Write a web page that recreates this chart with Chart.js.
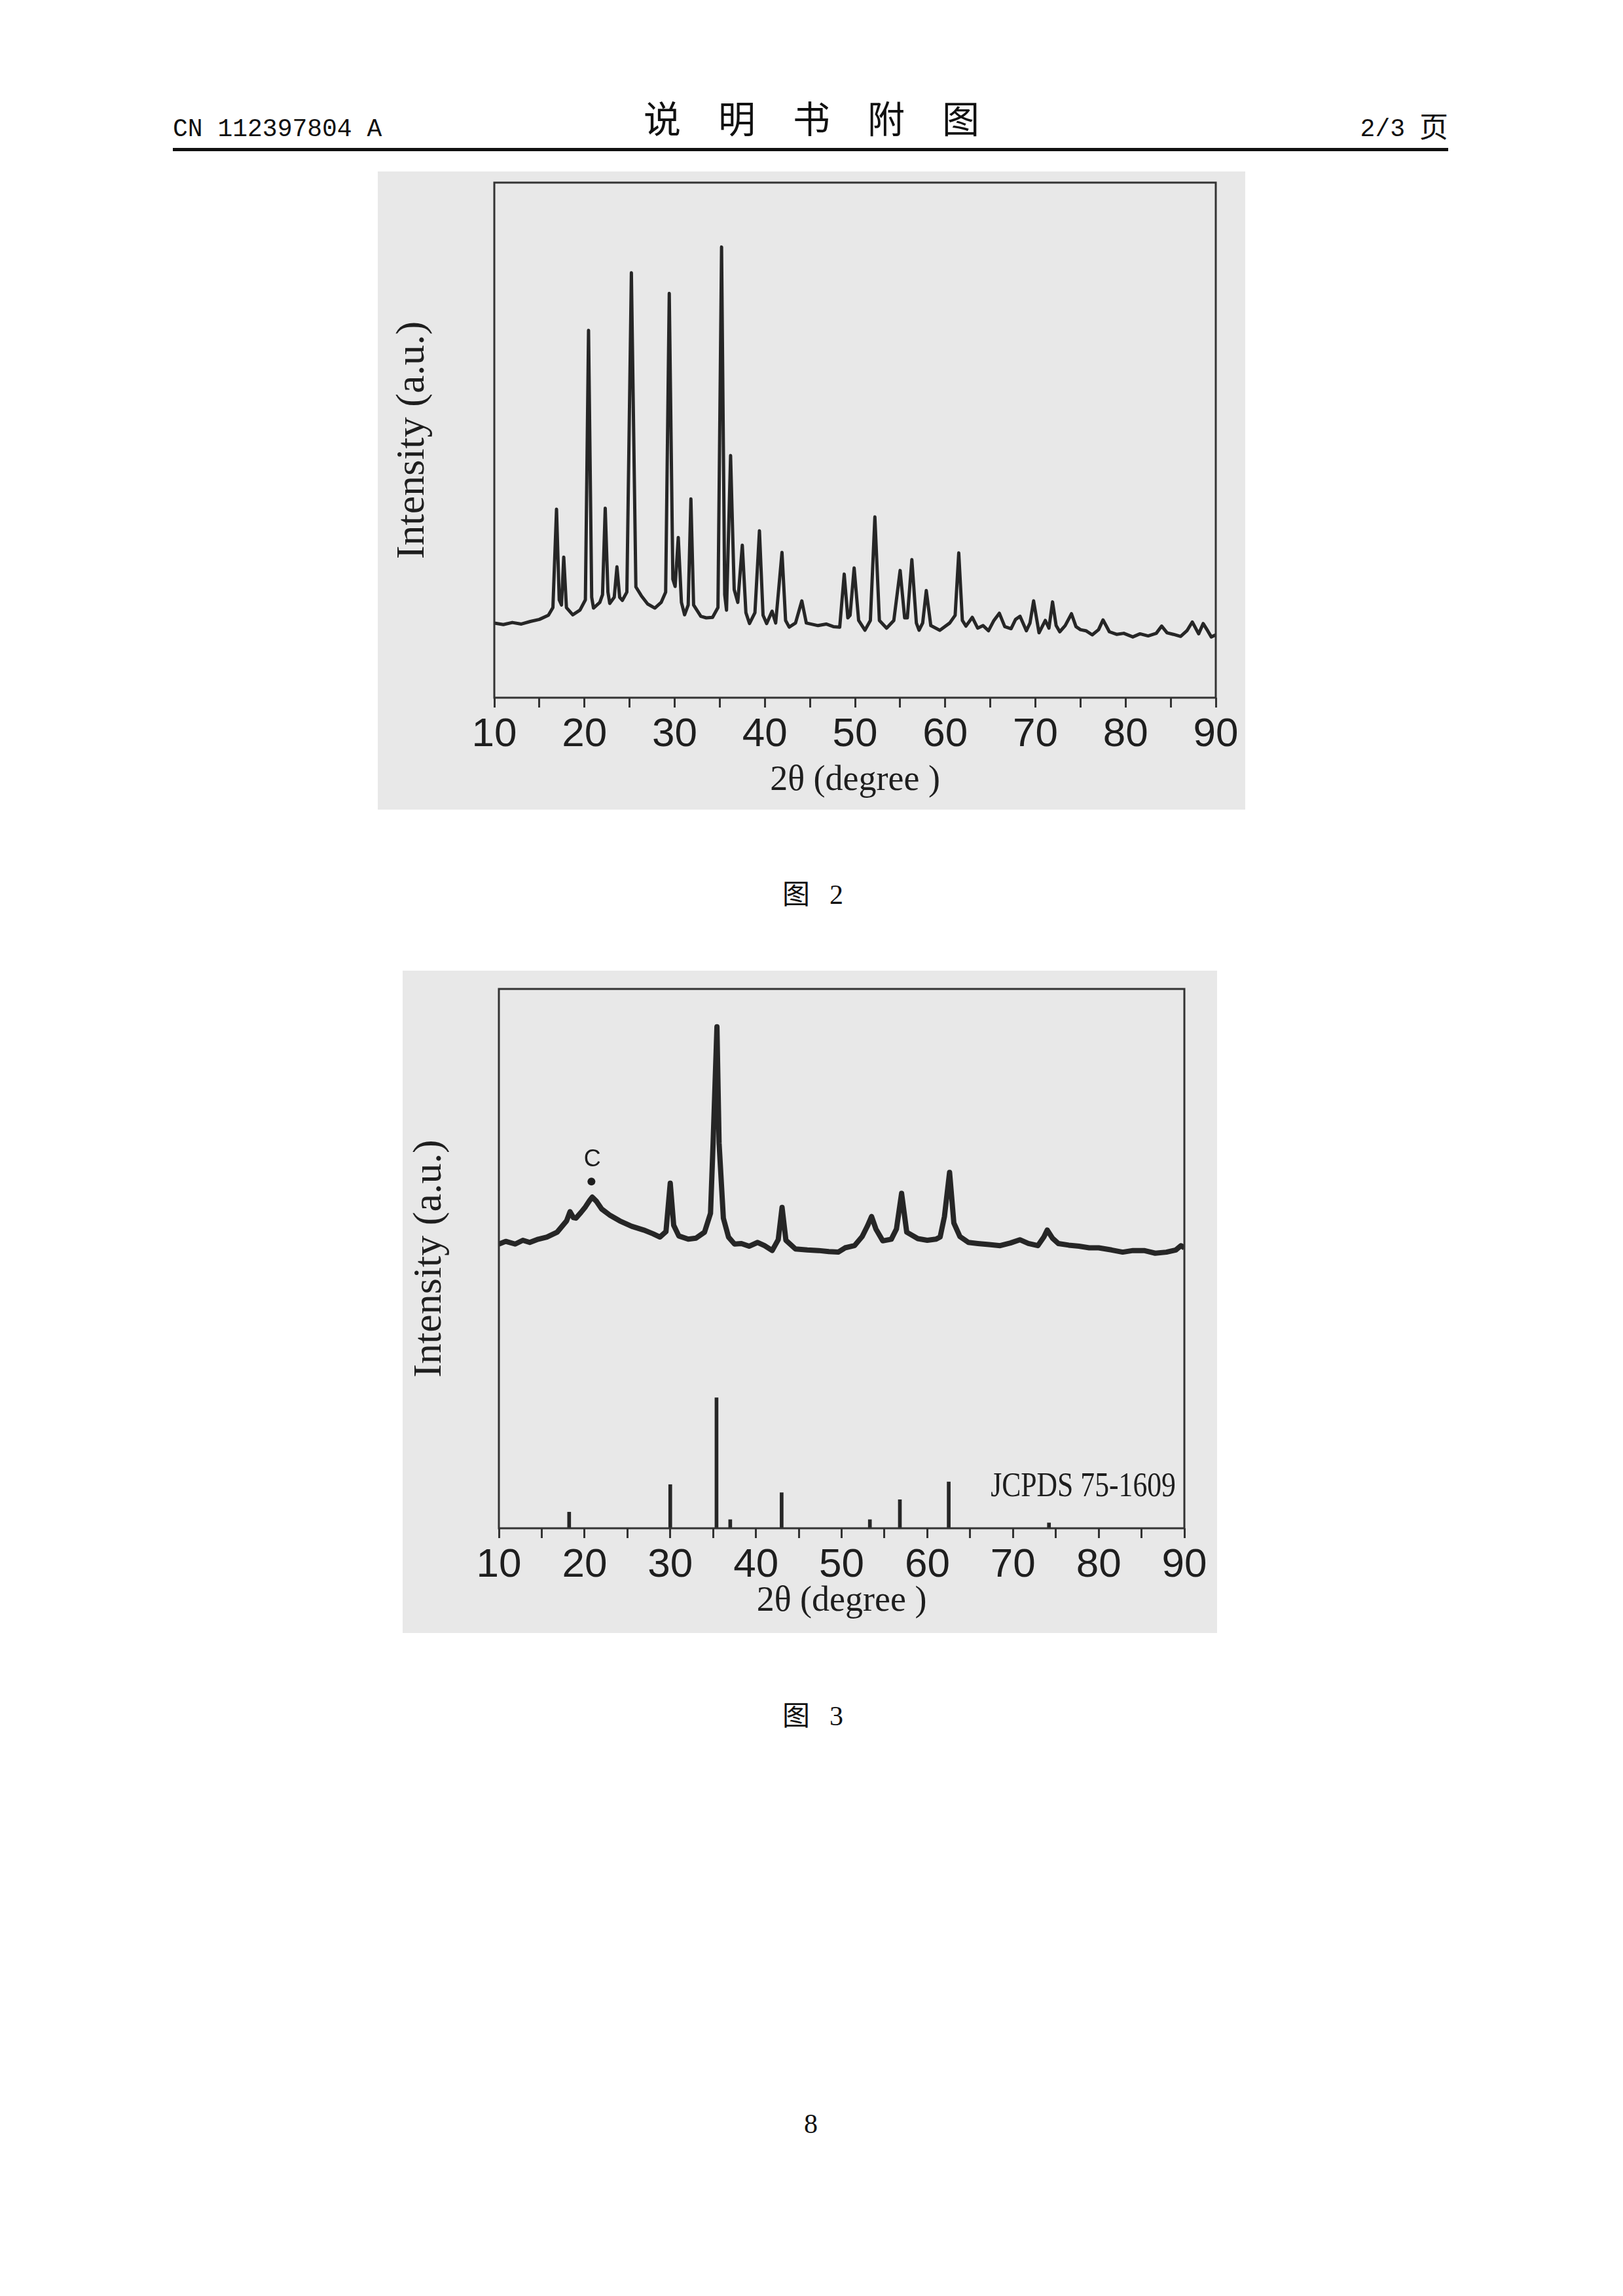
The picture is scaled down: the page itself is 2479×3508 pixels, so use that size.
<!DOCTYPE html>
<html>
<head>
<meta charset="utf-8">
<script src="https://cdn.jsdelivr.net/npm/chart.js@4.4.1/dist/chart.umd.min.js"></script>
<style>
  body { margin: 0; background: #fff; }
  .page { position: relative; width: 2479px; height: 3508px; overflow: hidden; background: #fff; }
  .txt { position: absolute; white-space: pre; line-height: 1; color: #111; }
  canvas { position: absolute; }
</style>
</head>
<body>
<div class="page">
  <div class="txt" style="left:264px; top:176px; font: 38px 'Liberation Mono';">CN 112397804 A</div>
  <div class="txt" style="left:0; width:2479px; text-align:center; top:137px; font: 57px 'Noto Sans CJK SC';">说　明　书　附　图</div>
  <div class="txt" style="right:333px; top:176px; font: 38px 'Liberation Mono';">2/3</div>
  <div class="txt" style="right:267px; top:159px; font: 44px 'Noto Sans CJK SC';">页</div>
  <div style="position:absolute; left:264px; top:226px; width:1948px; height:5px; background:#111;"></div>

  <canvas id="fig2" width="1325" height="975" style="left:577px; top:262px; width:1325px; height:975px;"></canvas>
  <div class="txt" style="left:1195px; top:1332px; font: 42px 'Noto Sans CJK SC';">图<span style="margin-left:30px; font: 42px 'Liberation Serif';">2</span></div>

  <canvas id="fig3" width="1244" height="1012" style="left:615px; top:1483px; width:1244px; height:1012px;"></canvas>
  <div class="txt" style="left:1195px; top:2587px; font: 42px 'Noto Sans CJK SC';">图<span style="margin-left:30px; font: 42px 'Liberation Serif';">3</span></div>

  <div class="txt" style="left:1228px; top:3221px; font: 42px 'Liberation Serif';">8</div>
</div>
<script>
// fig 2 pattern
const twoTheta2 = [10.0, 11.0, 12.0, 13.0, 14.0, 15.0, 16.0, 16.5, 16.9, 17.2, 17.45, 17.7, 18.0, 18.7, 19.5, 20.1, 20.45, 20.8, 21.0, 21.7,
  22.0, 22.3, 22.6, 22.8, 23.3, 23.6, 23.9, 24.2, 24.7, 25.2, 25.7, 26.3, 27.0, 27.8, 28.5, 29.0, 29.4, 29.8, 30.05, 30.4,
  30.75, 31.1, 31.5, 31.8, 32.1, 32.9, 33.5, 34.2, 34.8, 35.2, 35.55, 35.75, 36.2, 36.6, 37.0, 37.5, 37.9, 38.3, 38.9, 39.4,
  39.8, 40.2, 40.8, 41.2, 41.9, 42.3, 42.7, 43.4, 44.1, 44.6, 45.9, 46.8, 47.6, 48.3, 48.8, 49.2, 49.45, 49.9, 50.4, 51.1,
  51.7, 52.2, 52.7, 53.5, 54.3, 55.0, 55.5, 55.8, 56.3, 56.8, 57.1, 57.5, 57.9, 58.4, 59.4, 60.5, 61.1, 61.5, 61.9, 62.3,
  63.0, 63.6, 64.2, 64.8, 65.4, 66.0, 66.6, 67.3, 67.8, 68.3, 69.0, 69.4, 69.8, 70.4, 71.1, 71.5, 71.9, 72.3, 72.7, 73.3,
  74.0, 74.5, 75.0, 75.6, 76.3, 77.0, 77.5, 78.2, 79.0, 79.8, 80.8, 81.6, 82.5, 83.4, 84.0, 84.6, 85.3, 86.1, 86.8, 87.4,
  88.1, 88.6, 89.1, 89.5, 90.0];
const intensity2 = [14.5, 14.2, 14.6, 14.3, 14.8, 15.2, 16.0, 17.5, 36.6, 19.0, 18.0, 27.3, 17.5, 16.1, 17.0, 19.0, 71.3, 19.5, 17.4, 18.5,
  20.0, 36.8, 20.5, 18.3, 19.5, 25.4, 19.5, 18.9, 20.5, 82.5, 21.5, 19.8, 18.2, 17.4, 18.5, 20.5, 78.5, 23.0, 21.6, 31.1,
  18.5, 16.1, 18.0, 38.6, 18.0, 15.8, 15.5, 15.6, 17.5, 87.5, 20.0, 17.0, 47.0, 21.0, 18.5, 29.6, 16.5, 14.4, 16.5, 32.4,
  16.0, 14.4, 16.8, 14.5, 28.2, 15.0, 13.7, 14.5, 18.8, 14.5, 14.0, 14.3, 13.8, 13.7, 24.0, 15.5, 16.0, 25.2, 15.0, 13.1,
  15.0, 35.1, 15.0, 13.5, 15.0, 24.7, 15.5, 15.5, 26.8, 14.5, 13.1, 14.5, 20.8, 14.0, 13.1, 14.5, 16.0, 28.1, 15.0, 13.9,
  15.6, 13.5, 14.0, 13.0, 15.0, 16.4, 13.8, 13.4, 15.2, 15.8, 13.0, 14.5, 18.8, 12.6, 15.0, 13.5, 18.6, 14.0, 12.8, 14.0,
  16.3, 13.8, 13.2, 13.0, 12.2, 13.2, 15.1, 12.8, 12.3, 12.5, 11.8, 12.4, 12.0, 12.5, 13.9, 12.6, 12.3, 11.9, 13.0, 14.7,
  12.4, 14.4, 13.0, 11.8, 12.2];

// fig 3 measured pattern
const twoTheta3 = [10.0, 10.8, 11.9, 12.8, 13.6, 14.6, 15.6, 16.8, 17.9, 18.3, 18.7, 19.0, 19.6, 20.1, 20.6, 20.9, 21.4, 22.0, 23.0, 24.1,
  25.5, 26.9, 28.0, 28.8, 29.5, 30.0, 30.4, 31.0, 32.1, 33.0, 34.0, 34.7, 35.0, 35.45, 35.7, 36.2, 36.8, 37.5, 38.3, 39.2,
  40.2, 41.0, 41.9, 42.6, 43.05, 43.5, 44.6, 46.0, 47.3, 48.5, 49.6, 50.4, 51.5, 52.4, 53.0, 53.5, 54.0, 54.8, 55.8, 56.4,
  57.0, 57.6, 58.9, 60.0, 61.0, 61.5, 62.0, 62.6, 63.1, 63.8, 64.8, 65.9, 67.2, 68.5, 69.7, 70.8, 71.8, 72.9, 73.6, 74.0,
  74.6, 75.3, 76.5, 77.7, 78.9, 80.0, 81.5, 82.8, 84.0, 85.3, 86.6, 87.9, 89.0, 89.6, 90.0];
const intensity3 = [52.7, 53.2, 52.7, 53.4, 53.0, 53.6, 54.0, 54.9, 57.0, 58.7, 57.6, 57.5, 58.6, 59.6, 60.8, 61.4, 60.6, 59.2, 58.0, 57.0,
  56.0, 55.3, 54.6, 54.0, 55.0, 64.0, 56.2, 54.2, 53.6, 53.8, 54.9, 58.4, 71.4, 93.0, 71.4, 57.5, 54.0, 52.7, 52.8, 52.3,
  53.0, 52.4, 51.5, 53.5, 59.5, 53.4, 51.8, 51.6, 51.5, 51.3, 51.2, 52.0, 52.4, 54.1, 56.0, 57.8, 55.5, 53.3, 53.6, 55.5,
  62.1, 54.9, 53.7, 53.4, 53.6, 54.0, 57.8, 66.0, 56.6, 54.1, 53.0, 52.8, 52.6, 52.4, 52.9, 53.5, 52.8, 52.4, 54.0, 55.3,
  53.8, 52.8, 52.5, 52.3, 52.0, 52.0, 51.6, 51.2, 51.5, 51.5, 51.0, 51.2, 51.6, 52.4, 52.0];

// JCPDS 75-1609 reference lines
const refTheta = [18.2, 30.0, 35.4, 37.0, 43.0, 53.3, 56.8, 62.5, 74.2];
const refHeight = [3.0, 8.1, 24.2, 1.6, 6.6, 1.6, 5.3, 8.6, 1.0];

const xTickLabels = [10, 20, 30, 40, 50, 60, 70, 80, 90];
const yTitle = "Intensity (a.u.)";
const xTitle = "2\u03b8 (degree )";

const ink = "#1e1e1e";

const paper = {
  id: "paper",
  beforeDraw(chart) {
    const c = chart.ctx;
    c.save();
    c.fillStyle = "#e8e8e8";
    c.fillRect(0, 0, chart.width, chart.height);
    c.restore();
  },
  afterDatasetsDraw(chart) {
    const { ctx, chartArea: a } = chart;
    ctx.save();
    ctx.strokeStyle = "#333";
    ctx.lineWidth = 3;
    ctx.strokeRect(a.left, a.top, a.right - a.left, a.bottom - a.top);
    ctx.restore();
  },
};

const makeScales = (yWidth, xHeight, ytPad, xtPad) => ({
  x: {
    type: "linear",
    min: 10,
    max: 90,
    offset: false,
    afterFit: (s) => { s.height = xHeight; },
    afterBuildTicks: (s) => {
      s.ticks = [];
      for (let v = 10; v <= 90; v += 5) s.ticks.push({ value: v });
    },
    ticks: {
      autoSkip: false,
      maxRotation: 0,
      padding: 5,
      color: ink,
      font: { family: "Liberation Sans", size: 62 },
      callback: (v) => (xTickLabels.includes(v) ? String(v) : ""),
    },
    grid: { offset: false, drawOnChartArea: false, drawTicks: true, tickLength: 15, color: "#333", lineWidth: 3 },
    border: { display: false },
    title: {
      display: true,
      text: xTitle,
      color: ink,
      font: { family: "Liberation Serif", size: 54 },
      padding: { top: 0, bottom: xtPad },
    },
  },
  y: {
    min: 0,
    max: 100,
    afterFit: (s) => { s.width = yWidth; },
    ticks: { display: false },
    grid: { display: false },
    border: { display: false },
    title: {
      display: true,
      text: yTitle,
      color: ink,
      font: { family: "Liberation Serif", size: 62 },
      padding: { top: ytPad, bottom: 0 },
    },
  },
});

const baseOptions = (scales) => ({
  responsive: false,
  animation: false,
  devicePixelRatio: 1,
  layout: { padding: 0 },
  plugins: { legend: { display: false }, tooltip: { enabled: false } },
  scales,
});

// figure 2
const opts2 = baseOptions(makeScales(178, 171, 17, 12));
opts2.layout.padding = { top: 17, right: 45, bottom: 0, left: 0 };
new Chart(document.getElementById("fig2"), {
  type: "line",
  data: {
    datasets: [{
      data: twoTheta2.map((x, i) => ({ x, y: intensity2[i] })),
      borderColor: "#262626",
      borderWidth: 5,
      borderJoinStyle: "round",
      pointRadius: 0,
      tension: 0,
    }],
  },
  options: opts2,
  plugins: [paper],
});

// figure 3
const labels3 = {
  id: "labels3",
  afterDatasetsDraw(chart) {
    const { ctx, scales: { x, y } } = chart;
    ctx.save();
    ctx.fillStyle = ink;
    ctx.textAlign = "center";
    ctx.textBaseline = "middle";
    ctx.font = "36px 'Liberation Sans'";
    ctx.fillText("C", x.getPixelForValue(20.9), y.getPixelForValue(68.3));
    ctx.beginPath();
    ctx.arc(x.getPixelForValue(20.8), y.getPixelForValue(64.3), 6, 0, Math.PI * 2);
    ctx.fill();
    // reference card label, a bit condensed like the source
    ctx.translate(x.getPixelForValue(89.0), y.getPixelForValue(7.6));
    ctx.scale(0.84, 1);
    ctx.textAlign = "right";
    ctx.font = "52px 'Liberation Serif'";
    ctx.fillText("JCPDS 75-1609", 0, 0);
    ctx.restore();
  },
};

const opts3 = baseOptions(makeScales(147, 160, 5, 16));
opts3.layout.padding = { top: 28, right: 50, bottom: 0, left: 0 };
new Chart(document.getElementById("fig3"), {
  type: "line",
  data: {
    datasets: [
      {
        type: "line",
        data: twoTheta3.map((x, i) => ({ x, y: intensity3[i] })),
        borderColor: "#262626",
        borderWidth: 8,
        borderJoinStyle: "round",
        pointRadius: 0,
        tension: 0,
      },
      {
        type: "bar",
        data: refTheta.map((x, i) => ({ x, y: refHeight[i] })),
        backgroundColor: "#262626",
        barThickness: 5,
      },
    ],
  },
  options: opts3,
  plugins: [paper, labels3],
});
</script>
</body>
</html>
